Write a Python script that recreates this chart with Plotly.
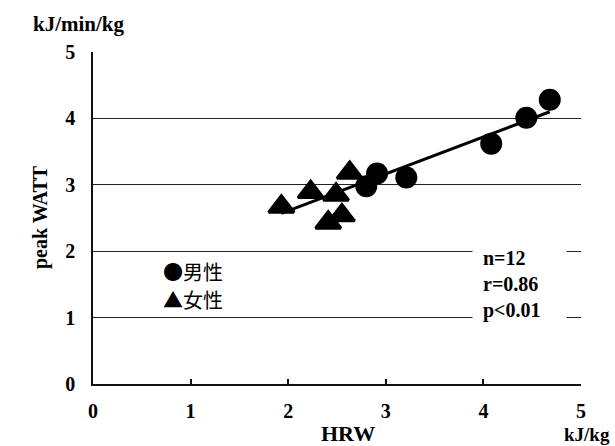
import plotly.graph_objects as go

# Data
male_x = [2.80, 2.91, 3.21, 4.08, 4.44, 4.68]
male_y = [2.98, 3.17, 3.11, 3.62, 4.01, 4.28]
female_x = [1.93, 2.23, 2.49, 2.63, 2.55, 2.41]
female_y = [2.67, 2.89, 2.85, 3.18, 2.54, 2.43]
trend_x = [1.93, 4.68]
trend_y = [2.57, 4.10]
tick_vals = [0, 1, 2, 3, 4, 5]
tick_text = ["0", "1", "2", "3", "4", "5"]
stats_lines = ["n=12", "r=0.86", "p<0.01"]
legend_labels = ["●男性", "▲女性"]

SERIF = "Liberation Serif"
CJK = "Noto Sans CJK JP"

fig = go.Figure()
fig.add_trace(go.Scatter(x=trend_x, y=trend_y, mode="lines",
                         line=dict(color="black", width=3), showlegend=False))
fig.add_trace(go.Scatter(x=male_x, y=male_y, mode="markers",
                         marker=dict(symbol="circle", size=22, color="black"),
                         showlegend=False))
fig.add_trace(go.Scatter(x=female_x, y=female_y, mode="markers",
                         marker=dict(symbol="triangle-up", size=22, color="black",
                                     line=dict(color="black", width=3)),
                         showlegend=False))

fig.update_layout(
    width=615, height=446,
    margin=dict(l=93, r=34, t=52, b=62),
    paper_bgcolor="white", plot_bgcolor="white",
    font=dict(family=SERIF, size=19, color="black", weight="bold"),
    xaxis=dict(range=[0, 5], tickvals=tick_vals, ticktext=tick_text,
               showline=True, linecolor="#111", linewidth=1.5,
               ticks="inside", ticklen=5, tickcolor="#111", tickwidth=1.5,
               showgrid=False, zeroline=False, ticklabelstandoff=8,
               tickfont=dict(family=SERIF, size=20, weight="bold")),
    yaxis=dict(range=[0, 5], tickvals=tick_vals, ticktext=tick_text,
               showline=True, linecolor="#111", linewidth=1.5,
               ticks="", showgrid=True, gridcolor="#222", gridwidth=1,
               zeroline=False, ticklabelstandoff=12,
               tickfont=dict(family=SERIF, size=20, weight="bold")),
)

annotations = [
    dict(text="kJ/min/kg", x=-0.0287, y=1.0843, xref="paper", yref="paper",
         showarrow=False, xanchor="center", yanchor="middle",
         font=dict(family=SERIF, size=21, weight="bold")),
    dict(text="peak WATT", x=-0.1086, y=0.503, xref="paper", yref="paper",
         showarrow=False, xanchor="center", yanchor="middle", textangle=-90,
         font=dict(family=SERIF, size=20, weight="bold")),
    dict(text="HRW", x=0.5225, y=-0.1506, xref="paper", yref="paper",
         showarrow=False, xanchor="center", yanchor="middle", borderpad=0,
         font=dict(family=SERIF, size=22, weight="bold")),
    dict(text="kJ/kg", x=1.0133, y=-0.1536, xref="paper", yref="paper",
         showarrow=False, xanchor="center", yanchor="middle", borderpad=0,
         font=dict(family=SERIF, size=19, weight="bold")),
    dict(text="<br>".join(stats_lines), x=3.88, y=1.5, xref="x", yref="y",
         showarrow=False, xanchor="left", yanchor="middle", align="left",
         bgcolor="white", borderpad=10, width=73,
         font=dict(family=SERIF, size=20, weight="bold")),
]
for i, lab in enumerate(legend_labels):
    annotations.append(dict(text=lab, x=0.70, y=[1.69, 1.27][i], xref="x", yref="y",
                            showarrow=False, xanchor="left", yanchor="middle",
                            font=dict(family=CJK, size=20, weight="normal")))
fig.update_layout(annotations=annotations)

fig.write_html("out.html")
